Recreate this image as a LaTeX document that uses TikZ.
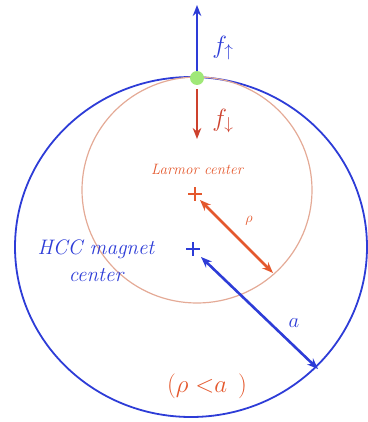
\documentclass[tikz,border=0pt]{standalone}
\usepackage{amsmath, amssymb}
\usetikzlibrary{arrows.meta, calc}

\definecolor{hccblue}{RGB}{45,60,215}
\definecolor{larorange}{RGB}{228,88,45}
\definecolor{larring}{RGB}{228,170,150}
\definecolor{downred}{RGB}{205,65,45}
\definecolor{dotgreen}{RGB}{160,232,120}

\begin{document}
\begin{tikzpicture}[
    x=1pt, y=-1pt,
    arrow/.style={line width=2.6pt, -{Stealth[length=11pt,width=8.5pt]}},
    dblarrow/.style={line width=2.6pt, {Stealth[length=11pt,width=8.5pt]}-{Stealth[length=11pt,width=8.5pt]}},
    cross/.style={line width=2.8pt},
    lbl/.style={font=\itshape, align=center, inner sep=0pt}
]
\useasboundingbox (0,0) rectangle (367,422);

\coordinate (hcc) at (193,249);
\coordinate (lar) at (195,194);

% the two circles
\draw[hccblue, line width=1.8pt] (191,247) ellipse [x radius=176, y radius=170];
\draw[larring, line width=1.2pt] (197,190) ellipse [x radius=115, y radius=113];

% centres
\draw[cross, larorange] ($(lar)+(-7,0)$) -- ($(lar)+(7,0)$) ($(lar)+(0,-7)$) -- ($(lar)+(0,7)$);
\draw[cross, hccblue] ($(hcc)+(-7,0)$) -- ($(hcc)+(7,0)$) ($(hcc)+(0,-7)$) -- ($(hcc)+(0,7)$);

\node[lbl, text=larorange, font=\itshape\fontsize{15}{17}\selectfont] (lartext) at (197,169) {Larmor center};
\node[lbl, text=hccblue, font=\itshape\fontsize{21}{27}\selectfont] (hcctext) at (96,261) {HCC magnet\\center};

% spin point and forces
\node[circle, fill=dotgreen, minimum size=14pt, inner sep=0pt] (dot) at (197,78) {};
\coordinate (uptip) at (197,5);
\coordinate (downtip) at (197,139);
\draw[arrow, hccblue] (dot.north) -- (uptip);
\draw[arrow, downred] ([yshift=-4pt]dot.south) -- (downtip);
\node[text=hccblue, font=\fontsize{25}{27}\selectfont] (fup) at (223,48) {$f_{\uparrow}$};
\node[text=downred, font=\fontsize{25}{27}\selectfont] (fdown) at (223,121) {$f_{\downarrow}$};

% radii
\coordinate (rhoend) at (273,273);
\coordinate (aend) at (318,369);
\draw[dblarrow, larorange] ([shift={(5,6)}]lar) -- (rhoend);
\draw[dblarrow, hccblue] ([shift={(8,8)}]hcc) -- (aend);
\node[text=larorange, font=\fontsize{14}{16}\selectfont] (rholbl) at (249,221) {$\rho$};
\node[text=hccblue, font=\fontsize{22}{24}\selectfont] (albl) at (294,323) {$a$};

\node[text=larorange, font=\fontsize{28}{30}\selectfont] (cond) at (207,386) {$(\rho\;{<}a\;\,)$};
\end{tikzpicture}
\end{document}
